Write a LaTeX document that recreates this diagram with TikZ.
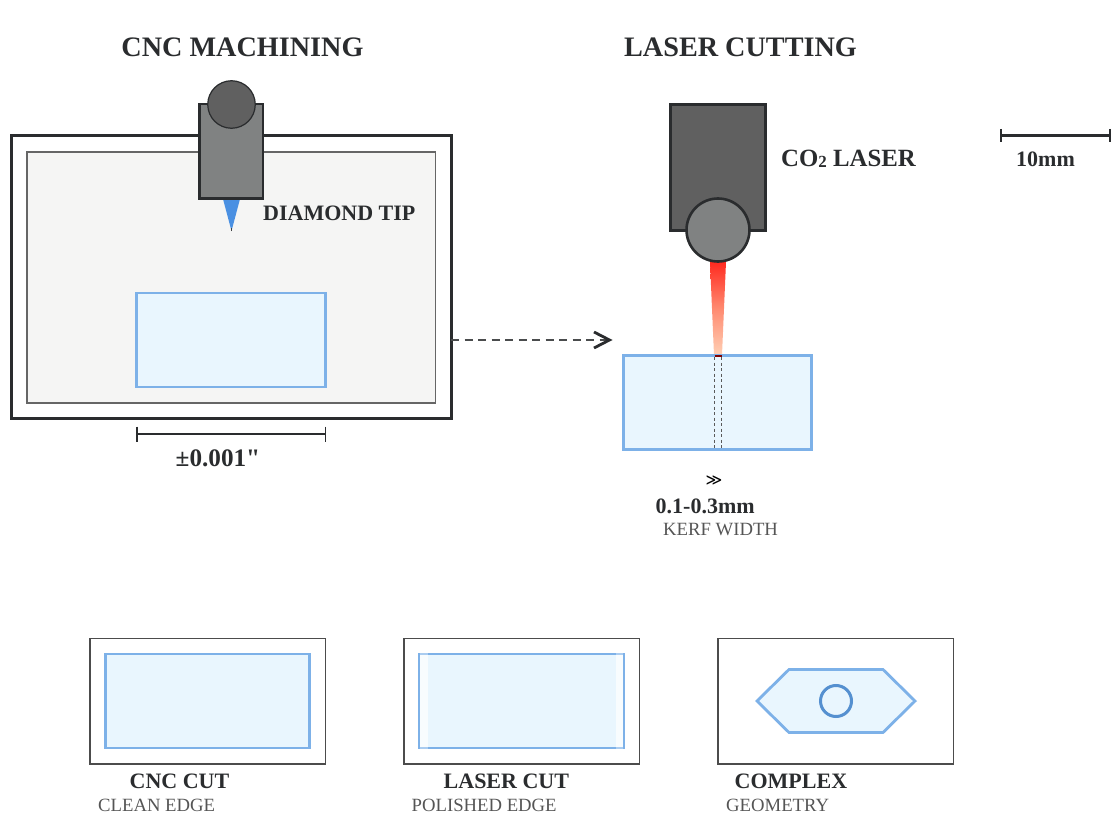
\documentclass[tikz,border=0pt]{standalone}
\usepackage{fontspec}
\setmainfont{Liberation Serif}
\newfontfamily\symfont{DejaVu Sans}
\newfontfamily\plainserif[BoldFont={Liberation Serif Bold}]{Liberation Serif}
\usetikzlibrary{arrows.meta,positioning,shapes.geometric}
\definecolor{ink}{HTML}{2A2C2E}
\definecolor{greytxt}{HTML}{555555}
\definecolor{glassfill}{HTML}{E9F6FE}
\definecolor{glassedge}{HTML}{7DB1E8}
\definecolor{panelfill}{HTML}{F5F5F4}
\definecolor{midgrey}{HTML}{808282}
\definecolor{darkgrey}{HTML}{606060}
\definecolor{tipblue}{HTML}{4A90E2}
\definecolor{ringblue}{HTML}{5590D0}
\definecolor{beamtop}{HTML}{FF2A20}
\definecolor{beammid}{HTML}{FF8A70}
\definecolor{beamlow}{HTML}{FFCFB4}
\tikzset{
  box/.style={draw=#1,rectangle,inner sep=0pt,outer sep=0pt},
  bold title/.style={font=\bfseries\fontsize{28.2}{30}\selectfont,text=ink,inner sep=0pt,anchor=base},
  lab/.style={font=\bfseries\fontsize{22}{26}\selectfont,text=ink,inner sep=0pt,anchor=base west},
  sublab/.style={font=\fontsize{18.7}{20}\selectfont,text=greytxt,inner sep=0pt,anchor=base west},
  glass/.style={draw=glassedge,fill=glassfill,line width=2.8pt},
  thumb/.style={draw=black!70,fill=white,line width=1.5pt},
  dim/.style={draw=ink,line width=1.3pt},
}
\begin{document}
\begin{tikzpicture}[x=1pt,y=-1pt]
\useasboundingbox (0,0) rectangle (1120,840);
% titles
\node[bold title] (t1) at (242.5,57) {CNC MACHINING};
\node[bold title] (t2) at (740.5,57) {LASER CUTTING};
% CNC frame
\draw[draw=ink,line width=3pt] (11.5,136) rectangle (451,418);
\draw[draw=black!60,fill=panelfill,line width=1.3pt] (27,152) rectangle (435.5,403);
\draw[glass] (136.5,293) rectangle (325.5,387);
% tool
\fill[tipblue] (223,199) -- (240,199) -- (231.5,231) -- cycle;
\draw[draw=ink!90,line width=0.8pt] (231.5,231) -- (231.5,228);
\draw[draw=ink,fill=midgrey,line width=2.6pt] (199.5,104) rectangle (263,198.5);
\node[circle,draw=ink,fill=darkgrey,line width=1.2pt,minimum size=47.5pt,inner sep=0pt] (spindle) at (231.5,104.5) {};
\node[lab] (tip) at (263,221) {DIAMOND TIP};
% tolerance
\draw[dim] (137,434) -- (325.5,434);
\draw[dim] (137,426.5) -- (137,441.5);
\draw[dim] (325.5,426.5) -- (325.5,441.5);
\node[lab,font=\bfseries\fontsize{25.2}{26}\selectfont] (tol) at (175.5,466) {±0.001{\plainserif"}};
% laser head
\draw[draw=ink,fill=darkgrey,line width=2.6pt] (670.5,104.5) rectangle (765.5,230.5);
\node[lab,font=\bfseries\fontsize{24.8}{26}\selectfont] (co) at (781,167) {CO{\fontsize{17}{20}\selectfont\raisebox{-1pt}{2}} LASER};
% beam
\shade[top color=beamtop,bottom color=beamlow,middle color=beammid]
  (710,262) -- (726,262) -- (722,355) -- (714,355) -- cycle;
\node[circle,draw=ink,fill=midgrey,line width=2.6pt,minimum size=63pt,inner sep=0pt] (lens) at (718,230) {};
% laser glass
\node[box=glassedge,fill=glassfill,line width=2.8pt,minimum width=188pt,minimum height=94pt] (g) at (717.5,402.5) {};
\draw[draw=black!65,line width=1.1pt,dash pattern=on 3pt off 2.5pt] (714.5,357) -- (714.5,449);
\draw[draw=black!65,line width=1.1pt,dash pattern=on 3pt off 2.5pt] (721.5,357) -- (721.5,449);
\draw[draw=red!50!black,line width=2pt] (714.5,355.5) -- (721.5,355.5);
% connector
\coordinate (cs) at (451,340);
\coordinate (ce) at (609.5,340);
\draw[draw=ink!85,line width=2.8pt,dash pattern=on 8pt off 5.5pt] (cs) -- (ce);
\draw[draw=ink,line width=2.8pt] (594,332) -- (609.5,340) -- (594,348);
% kerf
\node[font=\symfont\fontsize{16}{18}\selectfont,text=black,inner sep=0pt] (kk) at (714,481) {≫};
\node[lab] (kw) at (655.5,513) {0.1-0.3mm};
\node[sublab] (ks) at (663,535) {KERF WIDTH};
% scale
\draw[dim,line width=2.4pt] (1001,135.5) -- (1110,135.5);
\draw[dim,line width=2.4pt] (1001,129) -- (1001,142);
\draw[dim,line width=2.4pt] (1110,129) -- (1110,142);
\node[lab] (sc) at (1016,167) {10mm};
% thumbnails
\draw[thumb] (90,638.5) rectangle (325.5,764);
\draw[glass] (105.5,654) rectangle (309.5,748);
\node[lab] (a1) at (129.5,788) {CNC CUT};
\node[sublab] (a2) at (98,811) {CLEAN EDGE};
\draw[thumb] (404,638.5) rectangle (639.5,764);
\draw[glass,line width=2.2pt] (419,654) rectangle (624,748);
\fill[white,opacity=.7] (420.2,655.2) rectangle (427.5,746.8);
\fill[white,opacity=.7] (615.5,655.2) rectangle (622.8,746.8);
\fill[white,opacity=.35] (420.2,652.8) rectangle (427.5,655.2);
\fill[white,opacity=.35] (420.2,746.8) rectangle (427.5,749.2);
\fill[white,opacity=.35] (615.5,652.8) rectangle (622.8,655.2);
\fill[white,opacity=.35] (615.5,746.8) rectangle (622.8,749.2);
\node[lab] (b1) at (443.5,788) {LASER CUT};
\node[sublab] (b2) at (411.5,811) {POLISHED EDGE};
\draw[thumb] (718,638.5) rectangle (953.5,764);
\draw[glass,line join=miter] (757,701) -- (789,669.5) -- (883,669.5) -- (915,701) -- (883,732.5) -- (789,732.5) -- cycle;
\node[circle,draw=ringblue,line width=3pt,minimum size=31pt,inner sep=0pt] (hole) at (836,701) {};
\node[lab] (c1) at (734.5,788) {COMPLEX};
\node[sublab] (c2) at (726,811) {GEOMETRY};
\end{tikzpicture}
\end{document}
